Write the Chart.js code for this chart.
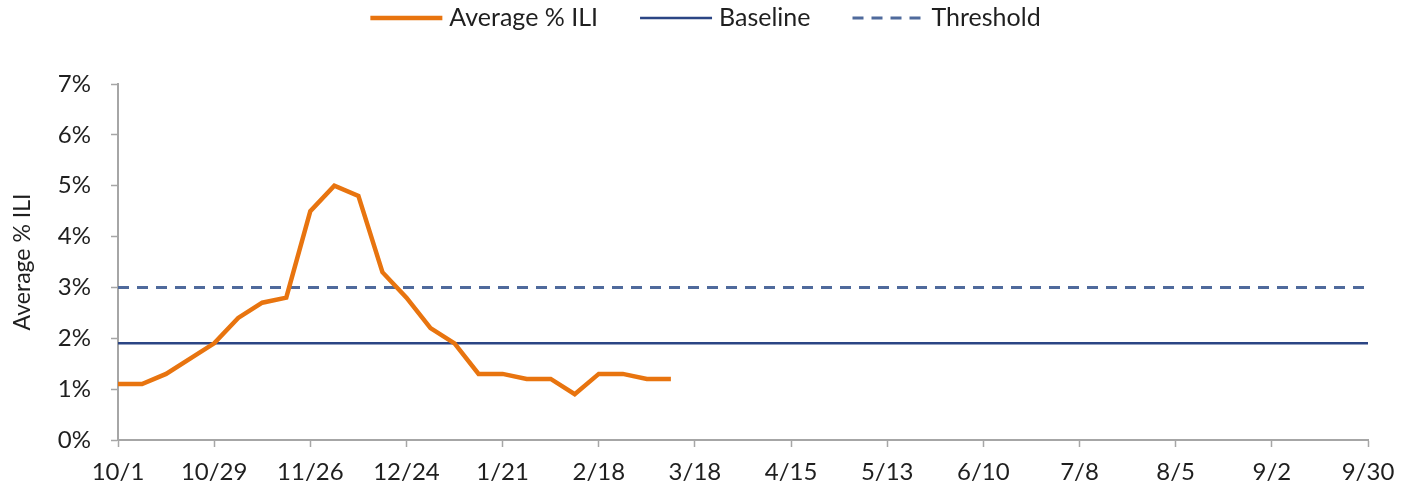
<!DOCTYPE html>
<html>
<head>
<meta charset="utf-8">
<script src="https://cdn.jsdelivr.net/npm/chart.js@4"></script>
<style>
  html, body { margin: 0; padding: 0; background: #fff; }
  #wrap { width: 1411px; height: 491px; }
</style>
</head>
<body>
<div id="wrap"><canvas id="chartILI"></canvas></div>
<script>
// tick labels every 4 weeks, weeks 0..52 (10/1 .. 9/30)
const tickLabels = ['10/1','10/29','11/26','12/24','1/21','2/18','3/18','4/15','5/13','6/10','7/8','8/5','9/2','9/30'];
const lastWeek = 52;

// weekly average % ILI, starting at 10/1
const iliValues = [1.1, 1.1, 1.3, 1.6, 1.9, 2.4, 2.7, 2.8, 4.5, 5.0, 4.8, 3.3, 2.8, 2.2, 1.9,
                   1.3, 1.3, 1.2, 1.2, 0.9, 1.3, 1.3, 1.2, 1.2];
const baselineValue = 1.9;
const thresholdValue = 3.0;

const FONT = "Lato, 'Open Sans', sans-serif";
const TEXT = '#1f1f1f';
const AXIS = '#a6a6a6';

const flat = v => [{ x: 0, y: v }, { x: lastWeek, y: v }];

// legend drawn by hand so it can sit close to the top edge (dash pattern shown too)
const topLegend = {
    id: 'topLegend',
    afterDraw(chart) {
        const ctx = chart.ctx;
        const sample = 72, gap = 7, spacing = 42, y = 18;
        ctx.save();
        ctx.font = '25px ' + FONT;
        ctx.textBaseline = 'middle';
        const items = chart.data.datasets.map(ds => ({ ds, w: ctx.measureText(ds.label).width }));
        const total = items.reduce((s, it) => s + sample + gap + it.w, 0) + spacing * (items.length - 1);
        let x = (chart.width - total) / 2;
        items.forEach(({ ds, w }) => {
            ctx.beginPath();
            ctx.strokeStyle = ds.borderColor;
            ctx.lineWidth = ds.borderWidth;
            ctx.setLineDash(ds.borderDash || []);
            ctx.moveTo(x, y);
            ctx.lineTo(x + sample, y);
            ctx.stroke();
            ctx.setLineDash([]);
            ctx.fillStyle = TEXT;
            ctx.fillText(ds.label, x + sample + gap, y);
            x += sample + gap + w + spacing;
        });
        ctx.restore();
    }
};

new Chart(document.getElementById('chartILI'), {
    type: 'line',
    data: {
        datasets: [
            {
                label: 'Average % ILI',
                data: iliValues.map((v, i) => ({ x: i, y: v })),
                borderColor: '#e8740f',
                borderWidth: 4.5,
                pointRadius: 0,
                tension: 0,
                order: 1
            },
            {
                label: 'Baseline',
                data: flat(baselineValue),
                borderColor: '#2b4584',
                borderWidth: 2.5,
                pointRadius: 0,
                order: 2
            },
            {
                label: 'Threshold',
                data: flat(thresholdValue),
                borderColor: '#4f6a9c',
                borderWidth: 3,
                borderDash: [11, 8],
                pointRadius: 0,
                order: 3
            }
        ]
    },
    plugins: [topLegend],
    options: {
        responsive: true,
        maintainAspectRatio: false,
        animation: false,
        layout: { padding: { top: 84, right: 43, bottom: 0, left: 0 } },
        plugins: {
            tooltip: { enabled: false },
            legend: { display: false }
        },
        scales: {
            x: {
                type: 'linear',
                min: 0,
                max: lastWeek,
                afterFit: s => { s.height = 51; },
                grid: { drawOnChartArea: false, drawTicks: true, tickLength: 7, color: AXIS, tickWidth: 1.5 },
                border: { color: AXIS, width: 2 },
                ticks: {
                    stepSize: 4,
                    autoSkip: false,
                    maxRotation: 0,
                    padding: 11,
                    color: TEXT,
                    font: { family: FONT, size: 24 },
                    callback: v => tickLabels[v / 4] ?? ''
                }
            },
            y: {
                min: 0,
                max: 7,
                afterFit: s => { s.width = 118; },
                grid: { drawOnChartArea: false, drawTicks: true, tickLength: 7, color: AXIS, tickWidth: 1.5 },
                border: { color: AXIS, width: 2 },
                ticks: {
                    stepSize: 1,
                    padding: 20,
                    color: TEXT,
                    font: { family: FONT, size: 24 },
                    callback: v => v + '%'
                },
                title: {
                    display: true,
                    text: 'Average % ILI',
                    color: TEXT,
                    font: { family: FONT, size: 23 },
                    padding: { top: 9, bottom: 4 }
                }
            }
        }
    }
});
</script>
</body>
</html>
